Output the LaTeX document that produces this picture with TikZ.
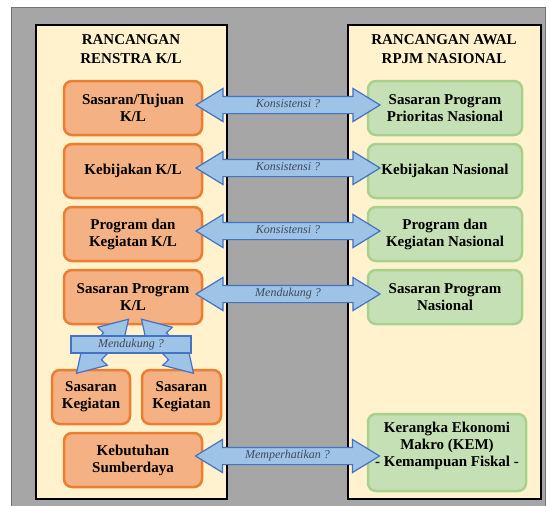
\documentclass[tikz,border=0pt]{standalone}
\usepackage{fontspec}
\setmainfont{Liberation Serif}
\usetikzlibrary{positioning, shapes.arrows, calc}
\definecolor{panelgray}{HTML}{A6A6A6}
\definecolor{cream}{HTML}{FFF2CC}
\definecolor{orangefill}{HTML}{F4B183}
\definecolor{orangeline}{HTML}{ED7D31}
\definecolor{greenfill}{HTML}{C5E0B4}
\definecolor{greenline}{HTML}{A9D18E}
\definecolor{arrowfill}{HTML}{9DC3E6}
\definecolor{arrowline}{HTML}{4472C4}
\definecolor{labelgray}{HTML}{404A5A}
\tikzset{
  box/.style={rounded corners=8pt, line width=2.5pt, minimum width=138pt, minimum height=54pt, align=center, inner sep=2pt,
    font=\fontsize{15}{17}\selectfont\bfseries}, % common look of all boxes
  kl/.style={box, draw=orangeline, fill=orangefill}, % left column (K/L)
  nas/.style={box, draw=greenline, fill=greenfill, minimum width=154pt}, % right column (nasional)
  title/.style={align=center, font=\fontsize{15}{19}\selectfont\bfseries}, % column headings
  link/.style={double arrow, draw=arrowline, fill=arrowfill, line width=1.2pt, text height=8pt, text depth=2.5pt,
    inner ysep=2.75pt, inner xsep=0pt, double arrow head extend=8pt, double arrow tip angle=63, minimum height=184pt,
    font=\fontsize{12}{13}\selectfont\itshape, text=labelgray}, % fat blue double arrows
  tag/.style={draw=arrowline, fill=arrowfill, line width=1.2pt, minimum width=120pt, minimum height=17pt, inner sep=0pt,
    font=\fontsize{12}{13}\selectfont\itshape, text=labelgray}, % label bar over the two small arrows
}

\begin{document}
\begin{tikzpicture}[x=1pt, y=-1pt, node distance=63pt, on grid]
  \useasboundingbox (0,0) rectangle (550,506);
  \fill[white] (0,0) rectangle (550,506);
  \draw[fill=panelgray, draw=black!55, line width=1pt] (11,7) rectangle (545,512);
  \draw[fill=cream, line width=1.5pt] (36,25) rectangle (227,499);
  \draw[fill=cream, line width=1.5pt] (348,25) rectangle (541,499);

  \node[title] (renstra) at (131,49) {RANCANGAN\\RENSTRA K/L};
  \node[title] (rpjm) at (444,49) {RANCANGAN AWAL\\RPJM NASIONAL};

  \node[kl] (tujuan) at (133,108) {Sasaran/Tujuan\\K/L};
  \node[kl, below=of tujuan] (kebijakan) {Kebijakan K/L};
  \node[kl, below=of kebijakan] (program) {Program dan\\Kegiatan K/L};
  \node[kl, below=of program] (sprogram) {Sasaran Program\\K/L};
  \node[kl, minimum width=78pt, below left=100pt and 42pt of sprogram] (kegiatanA) {Sasaran\\Kegiatan};
  \node[kl, minimum width=79pt, below right=100pt and 48.5pt of sprogram] (kegiatanB) {Sasaran\\Kegiatan};
  \node[kl, below=163pt of sprogram] (sumberdaya) {Kebutuhan\\Sumberdaya};

  \node[nas, right=312pt of tujuan] (prioritas) {Sasaran Program\\Prioritas Nasional};
  \node[nas, right=312pt of kebijakan] (kebnas) {Kebijakan Nasional};
  \node[nas, right=312pt of program] (prognas) {Program dan\\Kegiatan Nasional};
  \node[nas, right=312pt of sprogram] (sprognas) {Sasaran Program\\Nasional};
  \node[nas, minimum width=158pt, minimum height=77pt] (kem) at (447,452.5)
    {Kerangka Ekonomi\\Makro (KEM)\\- Kemampuan Fiskal -\\ \phantom{M}};

  % arrows between the two columns
  \path ([xshift=-6pt,yshift=3pt]tujuan.east) -- ([xshift=12pt,yshift=3pt]prioritas.west)
    node[link, midway, sloped] (k1) {Konsistensi ?};
  \path ([xshift=-6pt,yshift=3pt]kebijakan.east) -- ([xshift=12pt,yshift=3pt]kebnas.west)
    node[link, midway, sloped] (k2) {Konsistensi ?};
  \path ([xshift=-6pt,yshift=3pt]program.east) -- ([xshift=12pt,yshift=3pt]prognas.west)
    node[link, midway, sloped] (k3) {Konsistensi ?};
  \path ([xshift=-6pt,yshift=3pt]sprogram.east) -- ([xshift=12pt,yshift=3pt]sprognas.west)
    node[link, midway, sloped] (d1) {Mendukung ?};
  \path ([xshift=-6pt,yshift=4pt]sumberdaya.east) -- ([xshift=11pt,yshift=-3.5pt]kem.west)
    node[link, midway, sloped] (m1) {Memperhatikan ?};

  % arrows down to the two small boxes
  \path ([xshift=-5pt,yshift=5.5pt]sprogram.south) -- ([xshift=-14pt,yshift=-4pt]kegiatanA.north)
    node[link, midway, sloped, minimum height=75pt] (d2) {};
  \path ([xshift=9pt,yshift=5.5pt]sprogram.south) -- ([xshift=11.5pt,yshift=-4pt]kegiatanB.north)
    node[link, midway, sloped, minimum height=75pt] (d3) {};
  \node[tag] (dukung) at (131,344.5) {Mendukung ?};
\end{tikzpicture}
\end{document}
